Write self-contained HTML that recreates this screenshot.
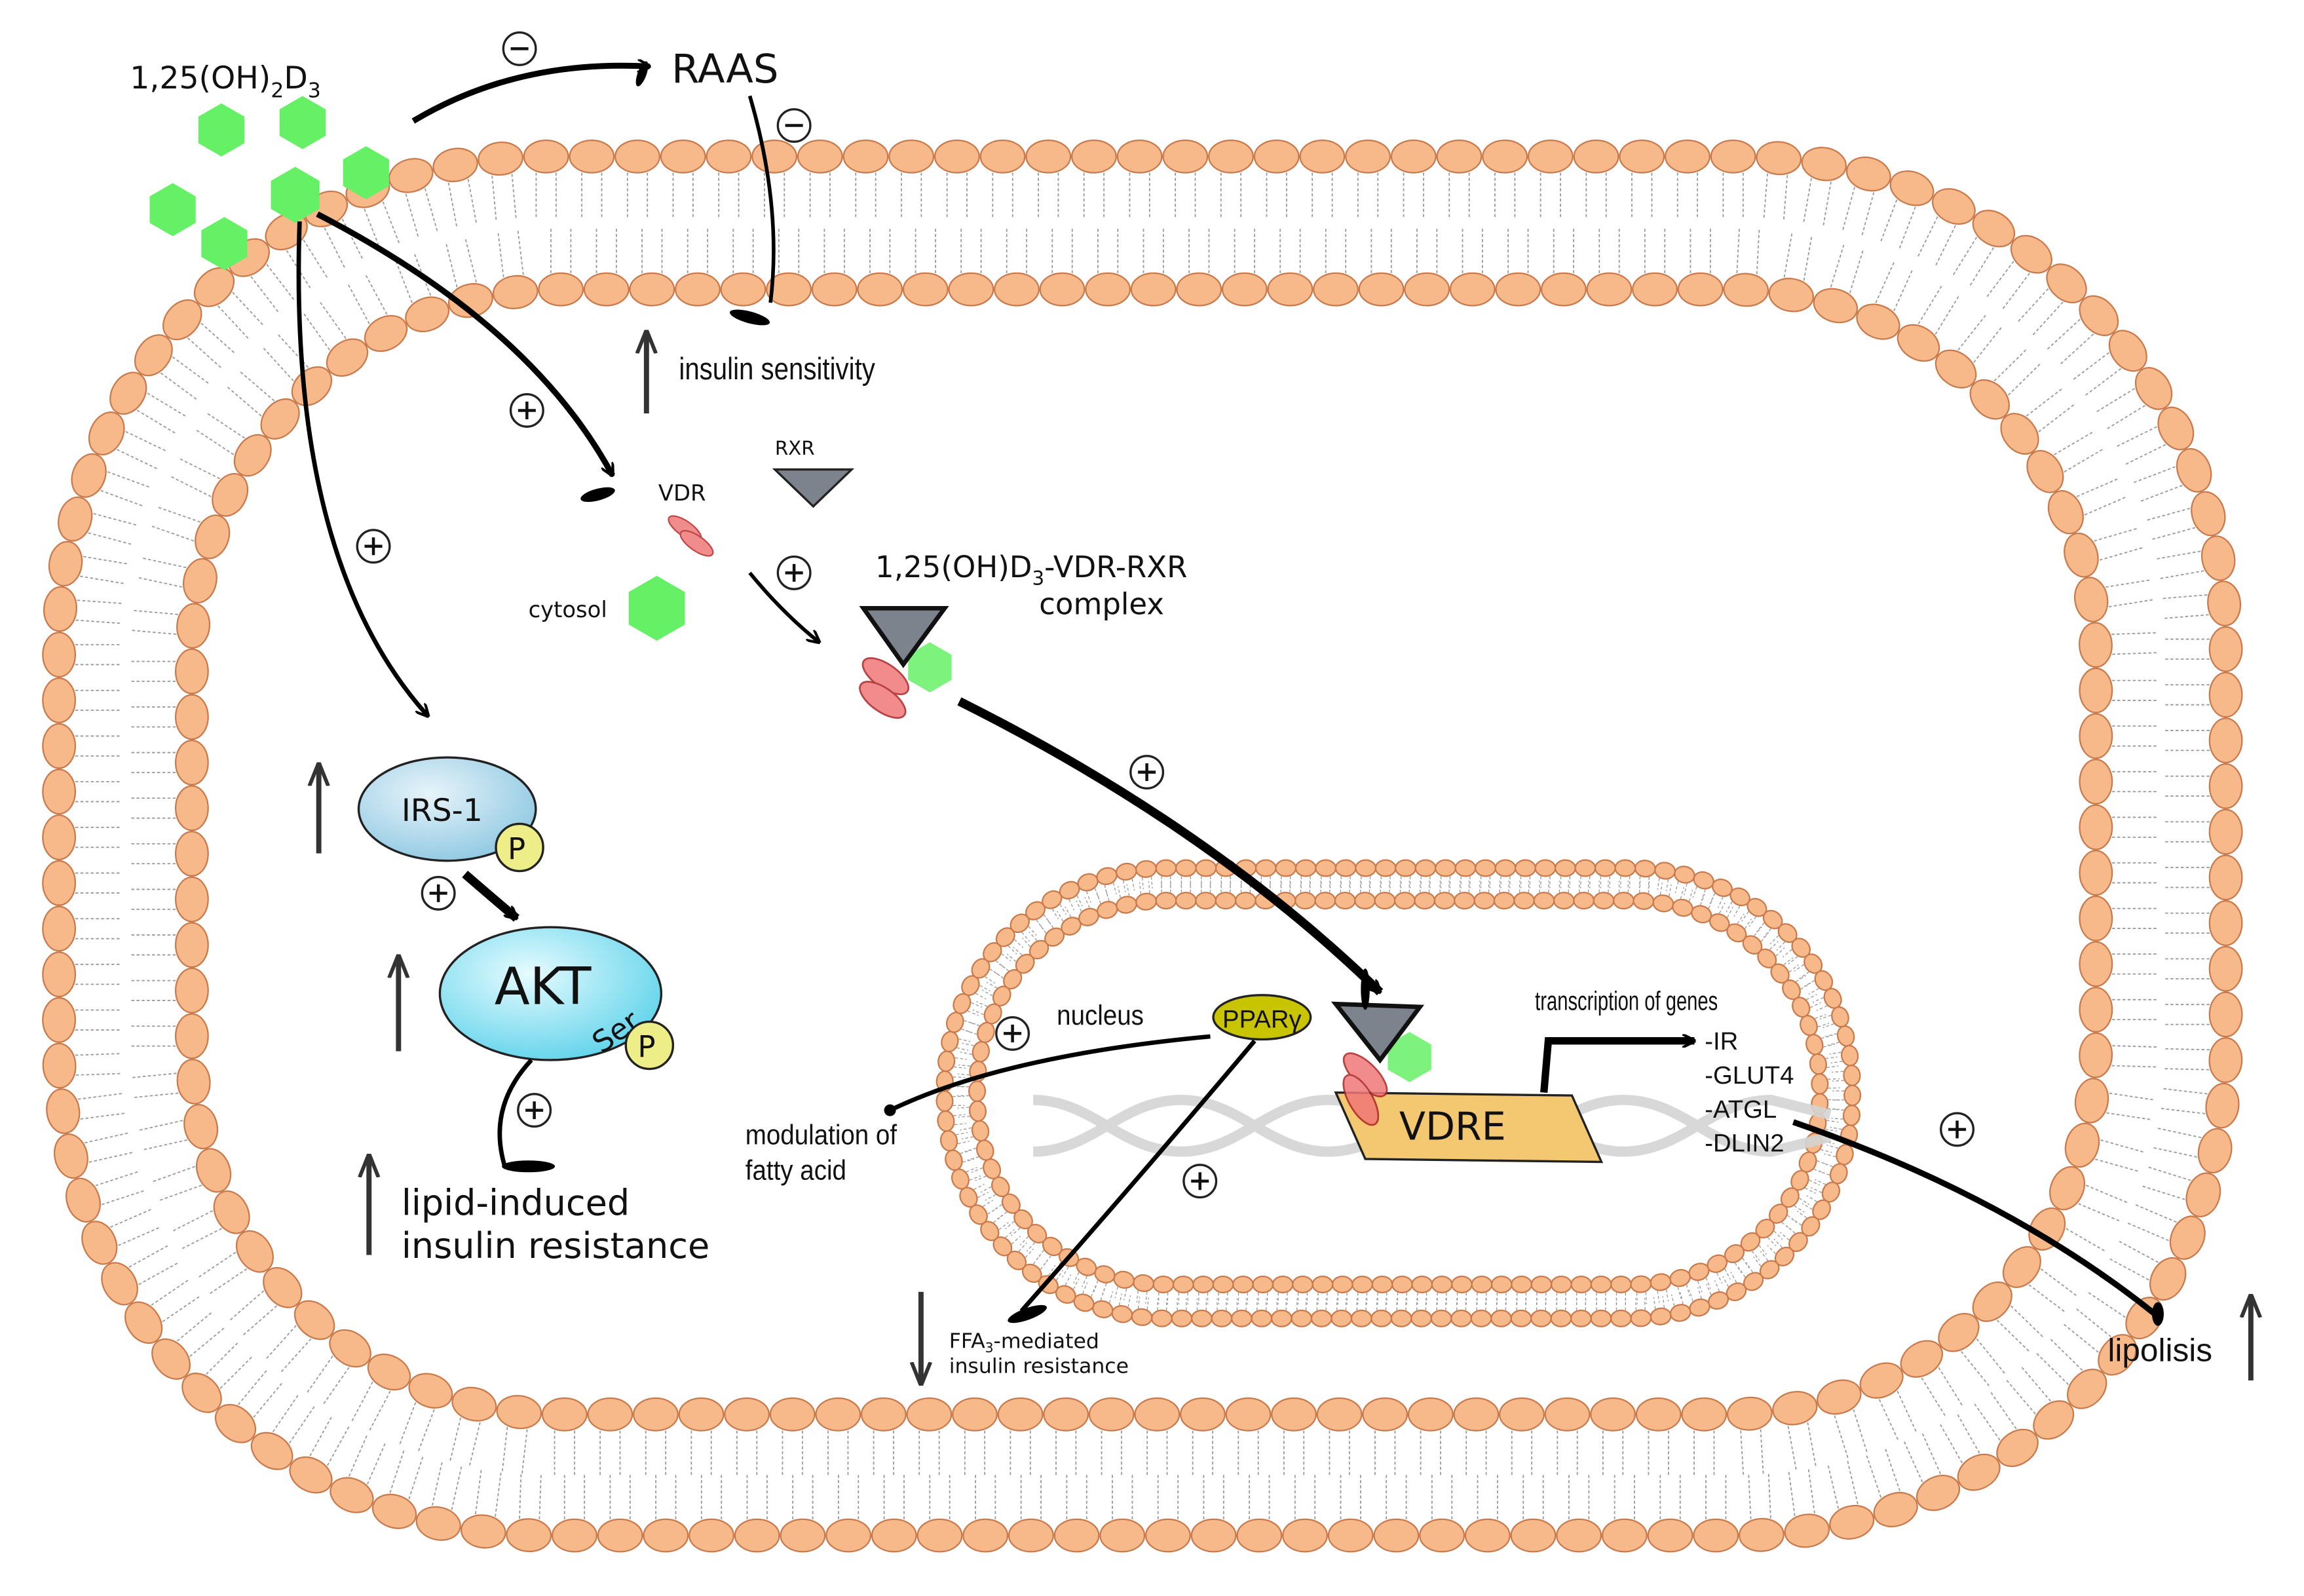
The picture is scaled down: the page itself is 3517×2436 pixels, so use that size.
<!DOCTYPE html>
<html><head><meta charset="utf-8"><style>
html,body{margin:0;padding:0;background:#fff;}
svg{display:block;}
text{font-family:"DejaVu Sans","Liberation Sans",sans-serif;fill:#111;}
.c{font-family:"Liberation Sans Narrow","Liberation Sans",sans-serif;}
</style></head><body>
<svg id="s" width="3517" height="2436" viewBox="0 0 1561 1081" preserveAspectRatio="none" xmlns="http://www.w3.org/2000/svg">
<defs>
<radialGradient id="irs" cx="40%" cy="35%" r="70%"><stop offset="0" stop-color="#e8f4fa"/><stop offset="1" stop-color="#8ec8e2"/></radialGradient>
<radialGradient id="akt" cx="40%" cy="35%" r="70%"><stop offset="0" stop-color="#e6fbff"/><stop offset="1" stop-color="#5fd3ea"/></radialGradient>
<marker id="v" viewBox="0 0 10 10" refX="9" refY="5" markerWidth="9" markerHeight="9" orient="auto" markerUnits="userSpaceOnUse"><path d="M0,0 L10,5 L0,10" fill="none" stroke="#000" stroke-width="2"/></marker>
<marker id="u" viewBox="0 0 10 10" refX="9" refY="5" markerWidth="16" markerHeight="16" orient="auto" markerUnits="userSpaceOnUse"><path d="M0,1 L10,5 L0,9" fill="none" stroke="#333" stroke-width="1.6"/></marker>
</defs>
<g id="mem"></g>
<g stroke="#d4d4d4" stroke-width="7" fill="none" opacity="0.9">
<path d="M700,745 C740,745 760,780 800,780 S860,745 900,745 S960,780 1000,780 S1060,745 1100,745 S1160,780 1200,780 L1240,770"/>
<path d="M700,780 C740,780 760,745 800,745 S860,780 900,780 S960,745 1000,745 S1060,780 1100,780 S1160,745 1200,745 L1240,755"/>
</g>
<g fill="#66f066" id="hex"></g>
<text x="88" y="60" font-size="21">1,25(OH)<tspan font-size="14" dy="6">2</tspan><tspan dy="-6">D</tspan><tspan font-size="14" dy="6">3</tspan></text>
<text x="455" y="56" font-size="27">RAAS</text>
<text x="460" y="257" font-size="21" class="c" transform="translate(460,257) scale(0.85,1) translate(-460,-257)">insulin sensitivity</text>
<text x="446" y="339" font-size="15">VDR</text>
<text x="525" y="308" font-size="13">RXR</text>
<text x="358" y="418" font-size="15">cytosol</text>
<text x="593" y="391" font-size="20">1,25(OH)D<tspan font-size="13" dy="5">3</tspan><tspan dy="-5">-VDR-RXR</tspan></text>
<text x="704" y="416" font-size="20">complex</text>
<text x="272" y="823" font-size="24">lipid-induced</text>
<text x="272" y="852" font-size="24">insulin resistance</text>
<text x="716" y="694" font-size="19" class="c" transform="translate(716,694) scale(0.9,1) translate(-716,-694)">nucleus</text>
<text x="505" y="775" font-size="19" class="c" transform="translate(505,775) scale(0.9,1) translate(-505,-775)">modulation of</text>
<text x="505" y="799" font-size="19" class="c" transform="translate(505,799) scale(0.9,1) translate(-505,-799)">fatty acid</text>
<text x="643" y="913" font-size="14">FFA<tspan font-size="9" dy="3">3</tspan><tspan dy="-3">-mediated</tspan></text>
<text x="643" y="930" font-size="14">insulin resistance</text>
<text x="1040" y="684" font-size="18" class="c" transform="translate(1040,684) scale(0.72,1) translate(-1040,-684)">transcription of genes</text>
<text x="1155" y="711" font-size="17" class="c">-IR</text>
<text x="1155" y="734" font-size="17" class="c">-GLUT4</text>
<text x="1155" y="757" font-size="17" class="c">-ATGL</text>
<text x="1155" y="780" font-size="17" class="c">-DLIN2</text>
<text x="1428" y="922" font-size="22" class="c">lipolisis</text>
<polygon points="525,318 577,318 551,343" fill="#7d838c" stroke="#222" stroke-width="1.5"/>
<g fill="#f08080" stroke="#b33" stroke-width="1" opacity="0.9">
<ellipse cx="464" cy="358" rx="13" ry="5" transform="rotate(35 464 358)"/>
<ellipse cx="472" cy="368" rx="13" ry="5" transform="rotate(35 472 368)"/>
</g>
<polygon points="585,412 640,412 612,450" fill="#7d838c" stroke="#111" stroke-width="3"/>
<g fill="#f07777" stroke="#a22" stroke-width="1.2" opacity="0.85">
<ellipse cx="600" cy="458" rx="18" ry="8" transform="rotate(35 600 458)"/>
<ellipse cx="598" cy="474" rx="18" ry="8" transform="rotate(35 598 474)"/>
</g>
<ellipse cx="303" cy="548" rx="60" ry="35" fill="url(#irs)" stroke="#222" stroke-width="1.5"/>
<text x="272" y="556" font-size="21">IRS-1</text>
<circle cx="352" cy="574" r="16" fill="#eeee88" stroke="#222" stroke-width="1.5"/>
<text x="344" y="582" font-size="20">P</text>
<ellipse cx="373" cy="673" rx="75" ry="45" fill="url(#akt)" stroke="#222" stroke-width="1.5"/>
<text x="335" y="680" font-size="35">AKT</text>
<text x="400" y="710" font-size="20" transform="rotate(-35 410 700)">Ser</text>
<circle cx="440" cy="708" r="16" fill="#eeee88" stroke="#222" stroke-width="1.5"/>
<text x="432" y="716" font-size="20">P</text>
<ellipse cx="855" cy="689" rx="33" ry="15" fill="#c8c400" stroke="#222" stroke-width="1.5"/>
<text x="855" y="696" font-size="17" class="c" text-anchor="middle">PPARγ</text>
<polygon points="905,740 1065,742 1085,787 925,785" fill="#f4c870" stroke="#222" stroke-width="1.5"/>
<text x="948" y="772" font-size="26">VDRE</text>
<polygon points="905,680 962,682 935,718" fill="#7d838c" stroke="#111" stroke-width="3"/>
<g fill="#f07777" stroke="#a22" stroke-width="1.2" opacity="0.85">
<ellipse cx="925" cy="728" rx="19" ry="8" transform="rotate(45 925 728)"/>
<ellipse cx="922" cy="745" rx="19" ry="8" transform="rotate(60 922 745)"/>
</g>
<g fill="none" stroke="#000">
<path d="M280,82 Q350,40 440,45" stroke-width="4" marker-end="url(#v)"/>
<path d="M508,65 Q530,140 522,205" stroke-width="2.5"/>
<path d="M215,145 Q360,220 415,322" stroke-width="4" marker-end="url(#v)"/>
<path d="M203,150 Q195,380 290,485" stroke-width="3" marker-end="url(#v)"/>
<path d="M508,388 Q530,415 555,435" stroke-width="2.5" marker-end="url(#v)"/>
<path d="M650,475 Q820,560 935,672" stroke-width="6" marker-end="url(#v)"/>
<path d="M315,592 Q330,605 350,622" stroke-width="6" marker-end="url(#v)"/>
<path d="M360,718 Q330,750 342,790" stroke-width="3"/>
<path d="M820,702 Q680,715 603,752" stroke-width="3"/>
<path d="M850,705 Q770,800 692,888" stroke-width="3"/>
<path d="M1046,740 L1049,705 L1148,705" stroke-width="5" marker-end="url(#v)"/>
<path d="M1215,760 Q1360,810 1460,890" stroke-width="4"/>
<g stroke-width="3.5" stroke="#333" marker-end="url(#u)">
<path d="M438,280 L438,225"/><path d="M216,578 L216,518"/><path d="M270,712 L270,648"/>
<path d="M250,850 L250,783"/><path d="M624,875 L624,937"/><path d="M1525,935 L1525,878"/>
</g>
</g>
<g fill="#000">
<ellipse cx="435" cy="50" rx="9" ry="3" transform="rotate(-70 435 50)"/>
<ellipse cx="508" cy="215" rx="14" ry="4" transform="rotate(15 508 215)"/>
<ellipse cx="405" cy="335" rx="12" ry="4" transform="rotate(-15 405 335)"/>
<ellipse cx="358" cy="790" rx="18" ry="4"/>
<ellipse cx="603" cy="752" rx="4" ry="4"/>
<ellipse cx="696" cy="890" rx="14" ry="4" transform="rotate(-20 696 890)"/>
<ellipse cx="1462" cy="890" rx="4" ry="8"/>
<ellipse cx="925" cy="670" rx="3" ry="14"/>
</g>
<g id="signs"></g>
</svg>
<script>
var NS="http://www.w3.org/2000/svg",s=document.getElementById('s'),mem=document.getElementById('mem');
function el(t,a,p){var e=document.createElementNS(NS,t);for(var k in a)e.setAttribute(k,a[k]);(p||s).appendChild(e);return e;}
function rr(x0,y0,x1,y1,r){return "M"+(x0+r)+","+y0+" L"+(x1-r)+","+y0+" A"+r+","+r+" 0 0 1 "+x1+","+(y0+r)+" L"+x1+","+(y1-r)+" A"+r+","+r+" 0 0 1 "+(x1-r)+","+y1+" L"+(x0+r)+","+y1+" A"+r+","+r+" 0 0 1 "+x0+","+(y1-r)+" L"+x0+","+(y0+r)+" A"+r+","+r+" 0 0 1 "+(x0+r)+","+y0+" Z";}
function row(d,sp,rx,ry,tl,dir,sw){
 var p=el('path',{d:d,fill:'none'},mem),L=p.getTotalLength(),n=Math.round(L/sp),tails='',heads=[];
 for(var i=0;i<n;i++){var l=i*L/n,a=p.getPointAtLength(l),b=p.getPointAtLength((l+0.5)%L);
  var ang=Math.atan2(b.y-a.y,b.x-a.x),nx=-Math.sin(ang)*dir,ny=Math.cos(ang)*dir;
  for(var k=-1;k<=1;k+=2){var tx=a.x+Math.cos(ang)*k*rx*0.45,ty=a.y+Math.sin(ang)*k*rx*0.45;
   tails+="M"+(tx+nx*ry)+","+(ty+ny*ry)+" L"+(tx+nx*(ry+tl))+","+(ty+ny*(ry+tl));}
  heads.push([a.x,a.y,ang*180/Math.PI]);}
 el('path',{d:tails,stroke:'#999',"stroke-width":sw,"stroke-dasharray":"2 1.5",fill:'none'},mem);
 heads.forEach(function(h){el('ellipse',{cx:h[0],cy:h[1],rx:rx,ry:ry,transform:"rotate("+h[2]+" "+h[0]+" "+h[1]+")",fill:'#f7b98a',stroke:'#c97a4c',"stroke-width":1},mem);});
}
row(rr(40,106,1508,1040,330),31,15,11,30,1,0.8);
row(rr(130,196,1420,958,250),31,15,11,30,-1,0.8);
row(rr(640,588,1255,893,150),13.5,6.8,5.5,8,1,0.6);
row(rr(662,610,1233,870,128),13.5,6.8,5.5,8,-1,0.6);
var hx=document.getElementById('hex');
[[150,88,18],[205,83,18],[248,117,18],[117,142,18],[152,165,18],[200,132,19],[445,412,22],[630,452,17],[955,716,17]].forEach(function(h){
 var pts=[];for(var i=0;i<6;i++){var a=Math.PI/3*i+Math.PI/6;pts.push((h[0]+h[2]*Math.cos(a))+","+(h[1]+h[2]*Math.sin(a)));}
 el('polygon',{points:pts.join(' '),opacity:(h[0]>600?0.85:1)},hx);});
var sg=document.getElementById('signs');
[[352,33,'-'],[538,85,'-'],[357,278,'+'],[253,370,'+'],[538,388,'+'],[777,523,'+'],[297,605,'+'],[362,752,'+'],[686,700,'+'],[813,800,'+'],[1326,765,'+']].forEach(function(c){
 el('circle',{cx:c[0],cy:c[1],r:11,fill:'#fff',stroke:'#222',"stroke-width":1.5},sg);
 el('line',{x1:c[0]-6,y1:c[1],x2:c[0]+6,y2:c[1],stroke:'#111',"stroke-width":2},sg);
 if(c[2]=='+')el('line',{x1:c[0],y1:c[1]-6,x2:c[0],y2:c[1]+6,stroke:'#111',"stroke-width":2},sg);});
</script>
</body></html>
